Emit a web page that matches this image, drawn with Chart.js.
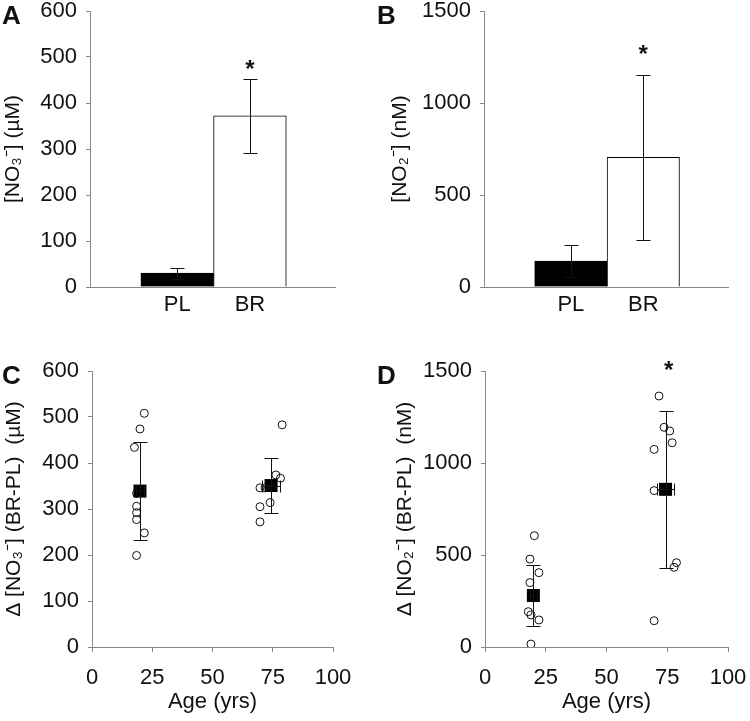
<!DOCTYPE html>
<html>
<head>
<meta charset="utf-8">
<script src="https://cdn.jsdelivr.net/npm/chart.js@4.4.0/dist/chart.umd.min.js"></script>
<style>
  html, body { margin: 0; padding: 0; background: #fff; }
  #wrap { position: relative; width: 750px; height: 721px; }
  canvas { position: absolute; }
</style>
</head>
<body>
<div id="wrap">
  <canvas id="chartA" width="375" height="330" style="left:0;top:0"></canvas>
  <canvas id="chartB" width="375" height="330" style="left:375px;top:0"></canvas>
  <canvas id="chartC" width="375" height="361" style="left:0;top:360px"></canvas>
  <canvas id="chartD" width="375" height="361" style="left:375px;top:360px"></canvas>
</div>
<script>
// panels A/B: group means and SD
const groups = ["PL", "BR"];
const no3Mean = [30, 372];
const no3Sd = [12, 80];
const no2Mean = [141, 705];
const no2Sd = [87, 447];

// panel C: delta nitrate (BR-PL) per subject
const youngAgeC = [21.7, 19.9, 17.6, 18.5, 18.5, 18.5, 18.5, 21.7, 18.5];
const youngNo3 = [508, 474, 434, 334, 306, 292, 277, 248, 199];
const oldAgeC = [78.9, 76.3, 78.2, 69.7, 71.8, 73.9, 69.7, 69.7];
const oldNo3 = [483, 374, 367, 346, 346, 314, 305, 272];

// panel D: delta nitrite (BR-PL) per subject
const youngAgeD = [20.3, 18.5, 22.2, 18.5, 17.8, 18.9, 22.2, 18.9];
const youngNo2 = [605, 478, 404, 350, 192, 174, 147, 16];
const oldAgeD = [71.6, 73.7, 76, 77, 69.6, 69.6, 78.8, 77.8, 69.6];
const oldNo2 = [1364, 1194, 1174, 1110, 1074, 850, 458, 433, 143];

// group summaries (mean ± SD) for C and D
const ageMean = [19.9, 74.3];
const ageSd = [1.5, 3.6];
const dNo3Mean = [339, 351];
const dNo3Sd = [107, 59];
const dNo2Mean = [280, 857];
const dNo2Sd = [165, 425];

const FONT = "'Liberation Sans', Arial, Helvetica, sans-serif";
const INK = "#111";
const AXIS = "#888";

Chart.defaults.font.family = FONT;
Chart.defaults.font.size = 22;
Chart.defaults.color = INK;

// error bars, asterisks and panel letter
const decor = {
  id: "decor",
  afterDatasetsDraw(chart, args, opts) {
    const { ctx } = chart;
    const x = chart.scales.x, y = chart.scales.y;
    ctx.save();
    ctx.strokeStyle = INK;
    ctx.lineWidth = 1;
    (opts.errors || []).forEach(e => {
      const px = Math.round(x.getPixelForValue(e.x)) + 0.5;
      const py = Math.round(y.getPixelForValue(e.y)) + 0.5;
      const top = Math.round(y.getPixelForValue(e.y + e.dy)) + 0.5;
      const bot = Math.round(y.getPixelForValue(e.y - e.dy)) + 0.5;
      const cap = 7;
      ctx.beginPath();
      ctx.moveTo(px, top); ctx.lineTo(px, bot);
      ctx.moveTo(px - cap, top); ctx.lineTo(px + cap, top);
      ctx.moveTo(px - cap, bot); ctx.lineTo(px + cap, bot);
      if (e.dx) {
        const l = Math.round(x.getPixelForValue(e.x - e.dx)) + 0.5;
        const r = Math.round(x.getPixelForValue(e.x + e.dx)) + 0.5;
        ctx.moveTo(l, py); ctx.lineTo(r, py);
        ctx.moveTo(l, py - 6); ctx.lineTo(l, py + 6);
        ctx.moveTo(r, py - 6); ctx.lineTo(r, py + 6);
      }
      ctx.stroke();
    });
    ctx.fillStyle = INK;
    ctx.textAlign = "center";
    ctx.textBaseline = "alphabetic";
    ctx.font = "bold 24px " + FONT;
    (opts.stars || []).forEach(s => {
      ctx.fillText("*", x.getPixelForValue(s.x), y.getPixelForValue(s.y) + 12);
    });
    ctx.textAlign = "left";
    ctx.font = "bold 26px " + FONT;
    ctx.fillText(opts.letter, 2, 24);
    ctx.restore();
  }
};

// keep the plot box where the layout padding puts it
function noEdgePadding(s) {
  s.paddingTop = 0;
  s.paddingBottom = 0;
  s.paddingLeft = 0;
  s.paddingRight = 0;
}

function yScale(max, step, title, width, titlePad) {
  return {
    min: 0, max: max,
    ticks: { stepSize: step, padding: 9, font: { size: 22, lineHeight: 1.0 }, callback: v => String(v) },
    grid: { drawOnChartArea: false, tickLength: 4, color: AXIS },
    border: { color: AXIS },
    title: { display: true, text: title, font: { size: 21 }, padding: { top: titlePad, bottom: 0 } },
    afterFit: s => { s.width = width; noEdgePadding(s); }
  };
}

function groupXScale() {
  return {
    type: "linear", min: -1.2, max: 2.17, offset: false,
    afterBuildTicks: s => { s.ticks = groups.map((g, i) => ({ value: i })); },
    ticks: { callback: v => groups[v], padding: 5, font: { size: 22 } },
    grid: { drawOnChartArea: false, drawTicks: false, offset: false, color: AXIS },
    border: { color: AXIS },
    afterFit: s => { s.height = 43; noEdgePadding(s); }
  };
}

function ageXScale() {
  return {
    type: "linear", min: 0, max: 100,
    ticks: { stepSize: 25, padding: 13, font: { size: 22 } },
    grid: { drawOnChartArea: false, tickLength: 5, color: AXIS },
    border: { color: AXIS },
    title: { display: true, text: "Age (yrs)", font: { size: 22 }, padding: { top: 0, bottom: 6 } },
    afterFit: s => { s.height = 74; noEdgePadding(s); }
  };
}

function barChart(id, means, sds, title, yMax, yStep, yWidth, titlePad, rightPad, letter, star) {
  return new Chart(document.getElementById(id), {
    type: "bar",
    data: {
      datasets: [{
        data: groups.map((g, i) => ({ x: i, y: means[i] })),
        backgroundColor: ["#000", "#fff"],
        borderColor: "#000",
        borderWidth: 1,
        categoryPercentage: 1,
        barPercentage: 1
      }]
    },
    options: {
      responsive: false,
      animation: false,
      layout: { padding: { top: 11, right: rightPad, left: 0, bottom: 0 } },
      plugins: {
        legend: { display: false },
        tooltip: { enabled: false },
        decor: {
          letter: letter,
          errors: groups.map((g, i) => ({ x: i, y: means[i], dy: sds[i] })),
          stars: [star]
        }
      },
      scales: {
        x: groupXScale(),
        y: yScale(yMax, yStep, title, yWidth, titlePad)
      }
    },
    plugins: [decor]
  });
}

function pts(ages, vals) {
  return ages.map((a, i) => ({ x: a, y: vals[i] }));
}

function ageChart(id, yAges, yVals, oAges, oVals, means, sds, title, yMax, yStep, yWidth, titlePad, rightPad, letter, stars) {
  const circle = {
    pointStyle: "circle", pointRadius: 4, pointBorderWidth: 1,
    pointBorderColor: INK, pointBackgroundColor: "rgba(255,255,255,0)", showLine: false
  };
  return new Chart(document.getElementById(id), {
    type: "scatter",
    data: {
      datasets: [
        Object.assign({ label: "Young", data: pts(yAges, yVals) }, circle),
        Object.assign({ label: "Old", data: pts(oAges, oVals) }, circle),
        {
          label: "Mean", data: pts(ageMean, means),
          pointStyle: "rect", pointRadius: 9.2, pointBorderWidth: 0,
          pointBackgroundColor: "#000", pointBorderColor: "#000"
        }
      ]
    },
    options: {
      responsive: false,
      animation: false,
      layout: { padding: { top: 11, right: rightPad, left: 0, bottom: 0 } },
      plugins: {
        legend: { display: false },
        tooltip: { enabled: false },
        decor: {
          letter: letter,
          errors: ageMean.map((a, i) => ({ x: a, y: means[i], dy: sds[i], dx: ageSd[i] })),
          stars: stars
        }
      },
      scales: {
        x: ageXScale(),
        y: yScale(yMax, yStep, title, yWidth, titlePad)
      }
    },
    plugins: [decor]
  });
}

barChart("chartA", no3Mean, no3Sd, "[NO\u2083\u207B] (\u00B5M)", 600, 100, 90, 1, 40, "A", { x: 1, y: 483 });
barChart("chartB", no2Mean, no2Sd, "[NO\u2082\u207B] (nM)", 1500, 500, 109, 13, 22, "B", { x: 1, y: 1288 });
ageChart("chartC", youngAgeC, youngNo3, oldAgeC, oldNo3, dNo3Mean, dNo3Sd,
  "\u0394 [NO\u2083\u207B] (BR-PL)  (\u00B5M)", 600, 100, 92, 1.5, 42, "C", []);
ageChart("chartD", youngAgeD, youngNo2, oldAgeD, oldNo2, dNo2Mean, dNo2Sd,
  "\u0394 [NO\u2082\u207B] (BR-PL)  (nM)", 1500, 500, 110, 18, 22, "D", [{ x: 75.6, y: 1525 }]);
</script>
</body>
</html>
